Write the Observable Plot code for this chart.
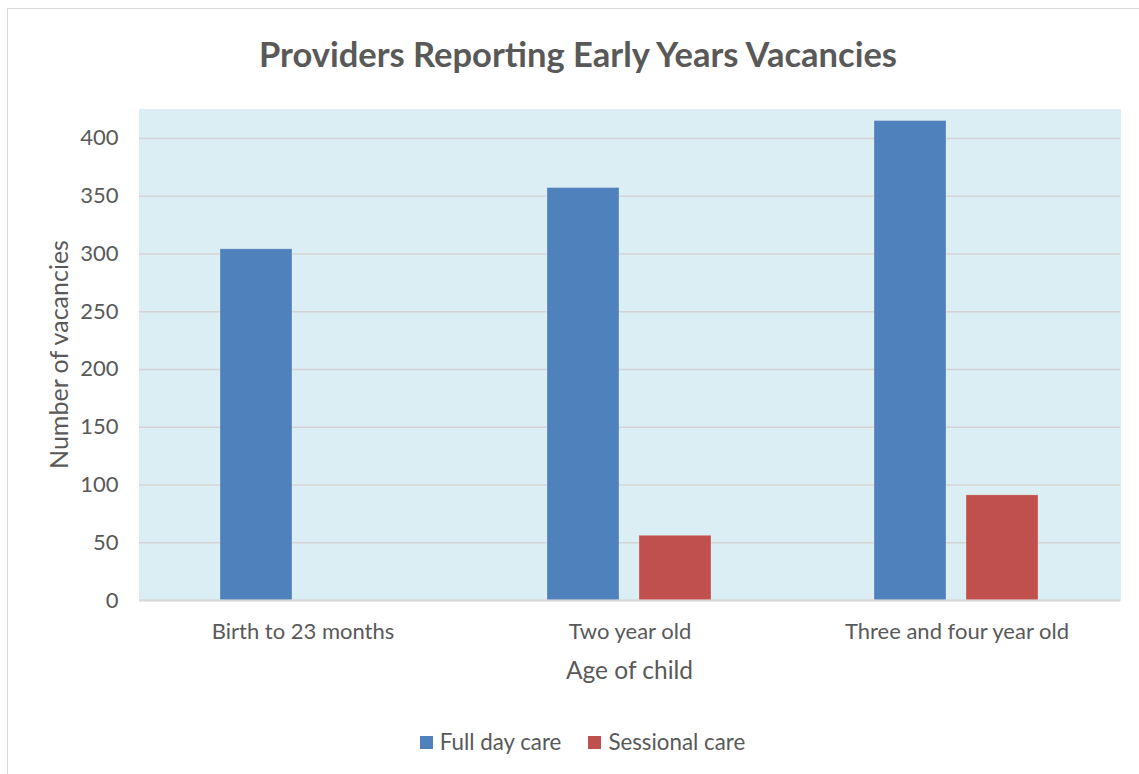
<!DOCTYPE html>
<html>
<head>
<meta charset="utf-8">
<script src="https://cdn.jsdelivr.net/npm/d3@7"></script>
<script src="https://cdn.jsdelivr.net/npm/@observablehq/plot@0.6"></script>
<style>
  html, body { margin: 0; padding: 0; background: #fff; overflow: hidden; width: 1139px; height: 774px; }
  body { position: relative; font-family: Lato, "Open Sans", sans-serif; color: #595959; }
  #frame { position: absolute; left: 7px; top: 8px; width: 1200px; height: 800px; border: 1.5px solid #D9D9D9; box-sizing: border-box; }
  #title { position: absolute; left: 0; top: 32px; width: 1156px; text-align: center; font-weight: bold; font-size: 34.5px; line-height: 44px; color: #595959; }
  #chart { position: absolute; left: 0; top: 100px; }
  #legend { position: absolute; top: 728px; left: 0; width: 1165px; display: flex; justify-content: center; gap: 27px; font-size: 22.3px; line-height: 28px; color: #595959; }
  .item { display: flex; align-items: center; gap: 7px; }
  .sw { width: 13px; height: 13px; display: inline-block; }
</style>
</head>
<body>
<div id="frame"></div>
<div id="title">Providers Reporting Early Years Vacancies</div>
<div id="chart"></div>
<div id="legend"></div>
<script>
const categories = ["Birth to 23 months", "Two year old", "Three and four year old"];
const seriesNames = ["Full day care", "Sessional care"];
const fullDayCare = [304, 357, 415];
const sessionalCare = [0, 56, 91];
const yTicks = [0, 50, 100, 150, 200, 250, 300, 350, 400];
const colors = ["#4F81BD", "#C0504D"];

const data = [];
categories.forEach((c, i) => {
  data.push({category: c, series: seriesNames[0], value: fullDayCare[i]});
  data.push({category: c, series: seriesNames[1], value: sessionalCare[i]});
});

const chart = Plot.plot({
  width: 1139,
  height: 590,
  marginLeft: 139,
  marginRight: 19,
  marginTop: 9,
  marginBottom: 90,
  style: {fontFamily: "Lato, 'Open Sans', sans-serif", fontSize: "22px", color: "#595959", background: "transparent"},
  fx: {domain: categories, padding: 0, label: null},
  x: {domain: seriesNames, paddingInner: 0.215, paddingOuter: 0.866, axis: null},
  y: {domain: [0, 425], ticks: yTicks, label: null},
  color: {domain: seriesNames, range: colors},
  marks: [
    Plot.frame({fill: "#DAEEF3", stroke: "#DAEEF3", strokeWidth: 1}),
    Plot.gridY(yTicks, {stroke: "#D4D4D4", strokeOpacity: 1, strokeWidth: 1.5}),
    Plot.axisY(yTicks, {tickSize: 0, tickPadding: 21, label: null, fontSize: 22, fill: "#595959"}),
    Plot.barY(data.filter(d => d.value > 0), {fx: "category", x: "series", y: "value", fill: "series", stroke: "#ffffff", strokeOpacity: 0.25, strokeWidth: 1}),
    Plot.ruleY([0], {stroke: "#D9D9D9", strokeWidth: 2}),
    Plot.axisFx({anchor: "bottom", tickSize: 0, tickPadding: 23, fontSize: 22, fill: "#595959", label: null})
  ]
});
document.getElementById("chart").appendChild(chart);

const svg = d3.select(chart);
// x-axis title
svg.append("text")
  .attr("x", (139 + 1120) / 2)
  .attr("y", 579)
  .attr("text-anchor", "middle")
  .attr("fill", "#595959")
  .attr("font-size", 24.5)
  .attr("font-family", "Lato, 'Open Sans', sans-serif")
  .text("Age of child");
// y-axis title
svg.append("text")
  .attr("transform", "translate(58," + (9 + 491 / 2) + ") rotate(-90)")
  .attr("text-anchor", "middle")
  .attr("dominant-baseline", "central")
  .attr("fill", "#595959")
  .attr("font-size", 25)
  .attr("font-family", "Lato, 'Open Sans', sans-serif")
  .text("Number of vacancies");

const legend = d3.select("#legend");
seriesNames.forEach((s, i) => {
  const it = legend.append("div").attr("class", "item");
  it.append("span").attr("class", "sw").style("background", colors[i]);
  it.append("span").text(s);
});
</script>
</body>
</html>
